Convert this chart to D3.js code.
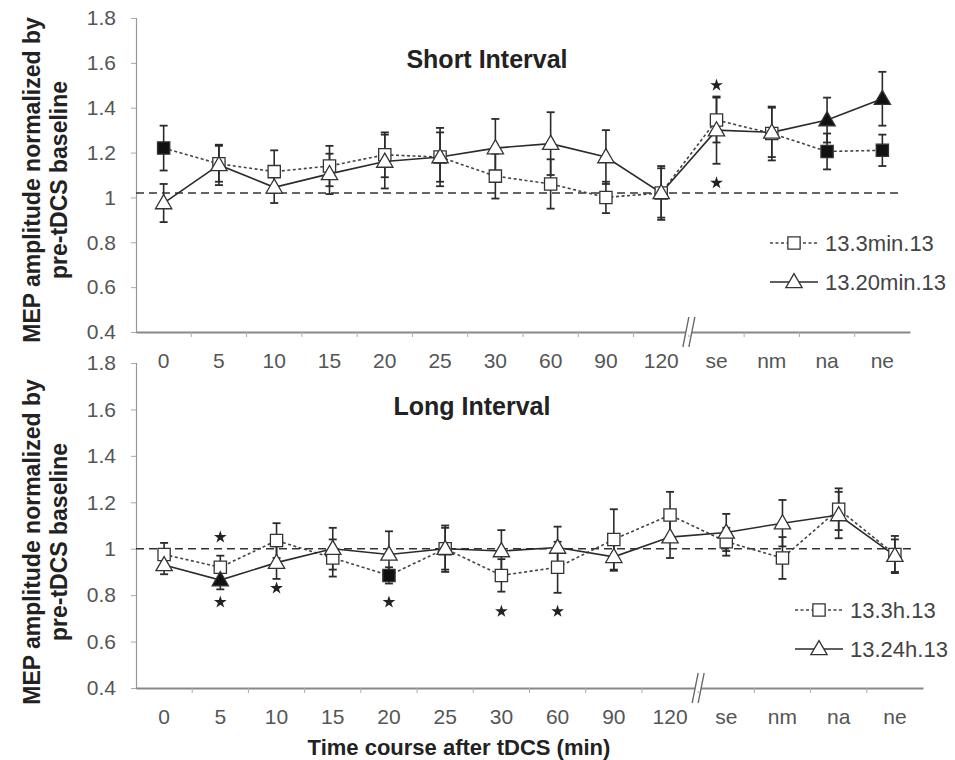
<!DOCTYPE html>
<html>
<head>
<meta charset="utf-8">
<script src="https://cdn.jsdelivr.net/npm/d3@7"></script>
<style>
  body { margin: 0; background: #fff; }
  text { font-family: "Liberation Sans", Arial, Helvetica, sans-serif; }
</style>
</head>
<body>
<svg id="chart" width="955" height="760"></svg>
<script>
// time points after stimulation (last four are the follow-up sessions)
const categories = ["0", "5", "10", "15", "20", "25", "30", "60", "90", "120", "se", "nm", "na", "ne"];
const yTicks = [0.4, 0.6, 0.8, 1.0, 1.2, 1.4, 1.6, 1.8];

// short interval protocols
const shortNames = ["13.3min.13", "13.20min.13"];
const short3 = [1.22, 1.15, 1.115, 1.14, 1.19, 1.18, 1.095, 1.06, 1.0, 1.02, 1.345, 1.285, 1.205, 1.21];
const short3Err = [0.10, 0.08, 0.095, 0.09, 0.10, 0.13, 0.10, 0.11, 0.07, 0.12, 0.10, 0.12, 0.08, 0.07];
const short3Filled = ["0", "na", "ne"];
const short20 = [0.975, 1.145, 1.045, 1.105, 1.16, 1.18, 1.22, 1.24, 1.18, 1.02, 1.30, 1.29, 1.345, 1.44];
const short20Err = [0.085, 0.09, 0.07, 0.09, 0.12, 0.11, 0.13, 0.14, 0.12, 0.11, 0.15, 0.11, 0.10, 0.12];
const short20Filled = ["na", "ne"];
const shortStars = [{ t: "se", v: 1.50 }, { t: "se", v: 1.065 }];
const shortBaseline = 1.02;

// long interval protocols
const longNames = ["13.3h.13", "13.24h.13"];
const long3 = [0.975, 0.92, 1.035, 0.96, 0.885, 1.0, 0.885, 0.92, 1.04, 1.145, 1.03, 0.96, 1.17, 0.975];
const long3Err = [0.05, 0.05, 0.075, 0.08, 0.035, 0.09, 0.07, 0.11, 0.13, 0.10, 0.06, 0.09, 0.09, 0.08];
const long3Filled = ["20"];
const long24 = [0.93, 0.865, 0.94, 1.0, 0.975, 1.0, 0.99, 1.005, 0.965, 1.05, 1.07, 1.11, 1.145, 0.97];
const long24Err = [0.04, 0.04, 0.07, 0.09, 0.10, 0.10, 0.09, 0.09, 0.06, 0.09, 0.08, 0.10, 0.10, 0.07];
const long24Filled = ["5"];
const longStars = [{ t: "5", v: 1.05 }, { t: "5", v: 0.77 }, { t: "10", v: 0.83 },
                   { t: "20", v: 0.77 }, { t: "30", v: 0.73 }, { t: "60", v: 0.73 }];
const longBaseline = 1.0;

const svg = d3.select("#chart");
const ink = "#2b2b2b";
const grey = "#666";
const tickFont = 21;

function series(vals, errs, filled) {
  return categories.map((c, i) => ({ t: c, v: vals[i], e: errs[i], filled: filled.includes(c) }));
}

function drawPanel(p) {
  const g = svg.append("g");
  const x = d3.scaleBand().domain(categories).range([p.left, p.right]).padding(0);
  const y = d3.scaleLinear().domain([0.4, 1.8]).range([p.bottom, p.top]);
  const cx = d => x(d) + x.bandwidth() / 2;

  // y axis
  const yAxis = g.append("g")
    .attr("transform", `translate(${p.left},0)`)
    .call(d3.axisLeft(y).tickValues(yTicks).tickSize(5).tickPadding(15)
      .tickFormat(d => d === 1 ? "1" : d3.format(".1f")(d)));
  yAxis.select(".domain").attr("stroke", "#999").attr("stroke-width", 1.2);
  yAxis.selectAll(".tick line").attr("stroke", "#aaa");
  yAxis.selectAll(".tick text").attr("font-size", tickFont).attr("fill", "#555")
    .attr("font-family", "Liberation Sans, Arial, sans-serif");

  // x axis: labels at band centres, small ticks on band edges
  const xAxis = g.append("g")
    .attr("transform", `translate(0,${p.bottom})`)
    .call(d3.axisBottom(x).tickSize(0).tickPadding(21).tickSizeOuter(0));
  xAxis.select(".domain").attr("stroke", "#888").attr("stroke-width", 2.2);
  xAxis.selectAll(".tick text").attr("font-size", tickFont).attr("fill", "#555")
    .attr("font-family", "Liberation Sans, Arial, sans-serif");
  g.selectAll(".edge-tick")
    .data(categories.slice(1))
    .join("line")
    .attr("x1", d => x(d)).attr("x2", d => x(d))
    .attr("y1", p.bottom).attr("y2", p.bottom + 5)
    .attr("stroke", "#aaa");

  // axis break between 120 and the follow-up sessions
  const bx = x("se");
  g.append("rect").attr("x", bx - 3).attr("y", p.bottom - 3).attr("width", 6).attr("height", 6).attr("fill", "#fff");
  [-3, 3].forEach(o => {
    g.append("line")
      .attr("x1", bx + o - 3).attr("y1", p.bottom + 15)
      .attr("x2", bx + o + 3).attr("y2", p.bottom - 15)
      .attr("stroke", grey).attr("stroke-width", 1.3);
  });

  // baseline
  g.append("line")
    .attr("x1", p.left).attr("x2", p.right - 10)
    .attr("y1", y(p.baseline)).attr("y2", y(p.baseline))
    .attr("stroke", "#333").attr("stroke-width", 1.6).attr("stroke-dasharray", "8,5");

  const line = d3.line().x(d => cx(d.t)).y(d => y(d.v));
  const sets = [
    { data: series(p.a, p.aErr, p.aFilled), dash: "3,2.5", shape: "square" },
    { data: series(p.b, p.bErr, p.bFilled), dash: null, shape: "triangle" }
  ];

  sets.forEach(s => {
    g.append("path").datum(s.data)
      .attr("d", line).attr("fill", "none")
      .attr("stroke", s.dash ? "#444" : ink).attr("stroke-width", 1.6)
      .attr("stroke-dasharray", s.dash);
  });

  // error bars
  sets.forEach(s => {
    const eb = g.append("g").selectAll("g").data(s.data).join("g");
    eb.append("line")
      .attr("x1", d => cx(d.t)).attr("x2", d => cx(d.t))
      .attr("y1", d => y(d.v - d.e)).attr("y2", d => y(d.v + d.e))
      .attr("stroke", ink).attr("stroke-width", 1.6);
    [-1, 1].forEach(sgn => {
      eb.append("line")
        .attr("x1", d => cx(d.t) - 4).attr("x2", d => cx(d.t) + 4)
        .attr("y1", d => y(d.v + sgn * d.e)).attr("y2", d => y(d.v + sgn * d.e))
        .attr("stroke", ink).attr("stroke-width", 1.8);
    });
  });

  // markers
  sets.forEach(s => {
    const sym = s.shape === "square"
      ? d3.symbol(d3.symbolSquare, 150)
      : d3.symbol(d3.symbolTriangle, 115);
    g.append("g").selectAll("path").data(s.data).join("path")
      .attr("d", sym)
      .attr("transform", d => `translate(${cx(d.t)},${y(d.v) + (s.shape === "triangle" ? 1 : 0)})`)
      .attr("fill", d => d.filled ? "#111" : "#fff")
      .attr("stroke", "#333").attr("stroke-width", 1.3);
  });

  // significance stars
  g.append("g").selectAll("path").data(p.stars).join("path")
    .attr("d", d3.symbol(d3.symbolStar, 50))
    .attr("transform", d => `translate(${cx(d.t)},${y(d.v)})`)
    .attr("fill", "#222");

  // title
  g.append("text")
    .attr("x", p.titleX).attr("y", p.titleY)
    .attr("text-anchor", "middle")
    .attr("font-size", 25).attr("font-weight", "bold").attr("fill", "#222")
    .text(p.title);

  // legend
  const lg = g.append("g").attr("transform", `translate(${p.legX},${p.legY})`);
  p.names.forEach((name, i) => {
    const row = lg.append("g").attr("transform", `translate(0,${i * 39})`);
    row.append("line").attr("x1", 0).attr("x2", 48).attr("y1", 0).attr("y2", 0)
      .attr("stroke", i === 0 ? "#444" : ink).attr("stroke-width", 1.5)
      .attr("stroke-dasharray", i === 0 ? "3,2.5" : null);
    row.append("path")
      .attr("d", i === 0 ? d3.symbol(d3.symbolSquare, 150) : d3.symbol(d3.symbolTriangle, 115))
      .attr("transform", `translate(24,${i === 0 ? 0 : 1})`)
      .attr("fill", "#fff").attr("stroke", "#333").attr("stroke-width", 1.3);
    row.append("text").attr("x", 55).attr("y", 8)
      .attr("font-size", 22).attr("fill", "#444").text(name);
  });

  // y axis title
  const yl = g.append("text")
    .attr("transform", `translate(40,${p.labelY}) rotate(-90)`)
    .attr("text-anchor", "middle")
    .attr("font-size", 23).attr("font-weight", "bold").attr("fill", "#222");
  yl.append("tspan").attr("x", 0).attr("dy", 0).text("MEP amplitude normalized by");
  yl.append("tspan").attr("x", 0).attr("dy", 27).text("pre-tDCS baseline");
}

drawPanel({
  left: 136, right: 910, top: 18, bottom: 332,
  a: short3, aErr: short3Err, aFilled: short3Filled,
  b: short20, bErr: short20Err, bFilled: short20Filled,
  stars: shortStars, baseline: shortBaseline,
  names: shortNames, title: "Short Interval", titleX: 487, titleY: 68,
  legX: 770, legY: 243, labelY: 180
});

drawPanel({
  left: 136, right: 923, top: 363, bottom: 688,
  a: long3, aErr: long3Err, aFilled: long3Filled,
  b: long24, bErr: long24Err, bFilled: long24Filled,
  stars: longStars, baseline: longBaseline,
  names: longNames, title: "Long Interval", titleX: 472, titleY: 415,
  legX: 795, legY: 610, labelY: 542
});

// shared x axis title
svg.append("text")
  .attr("x", 459).attr("y", 755)
  .attr("text-anchor", "middle")
  .attr("font-size", 22).attr("font-weight", "bold").attr("fill", "#222")
  .text("Time course after tDCS (min)");
</script>
</body>
</html>
